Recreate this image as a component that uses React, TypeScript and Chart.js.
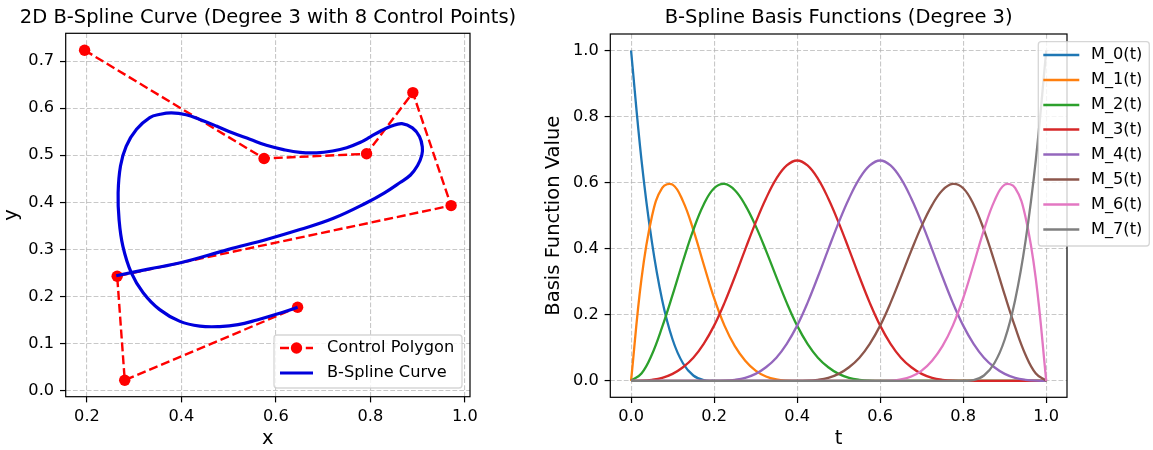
import React, { useEffect, useRef } from 'react';
import { Chart, registerables } from 'chart.js';

Chart.register(...registerables);

const FONT = '"DejaVu Sans", sans-serif';

// ---------- Left chart: control polygon and B-spline curve ----------
const leftTitle = '2D B-Spline Curve (Degree 3 with 8 Control Points)';
const controlX = [0.195, 0.575, 0.792, 0.890, 0.971, 0.264, 0.280, 0.646];
const controlY = [0.723, 0.493, 0.503, 0.633, 0.393, 0.243, 0.022, 0.177];

const curveX = [
  0.262, 0.330, 0.400, 0.500, 0.580, 0.651, 0.722, 0.792, 0.830, 0.863,
  0.885, 0.900, 0.909, 0.910, 0.904, 0.889, 0.867, 0.845, 0.821, 0.800,
  0.778, 0.750, 0.720, 0.686, 0.651, 0.616, 0.580, 0.545, 0.509, 0.474,
  0.439, 0.410, 0.379, 0.355, 0.333, 0.305, 0.283, 0.271, 0.266, 0.268,
  0.276, 0.294, 0.319, 0.354, 0.397, 0.439, 0.481, 0.520, 0.560, 0.601,
  0.646,
];
const curveY = [
  0.244, 0.258, 0.272, 0.300, 0.321, 0.342, 0.366, 0.399, 0.420, 0.442,
  0.458, 0.478, 0.500, 0.518, 0.540, 0.558, 0.567, 0.562, 0.551, 0.539,
  0.527, 0.516, 0.509, 0.505, 0.506, 0.512, 0.521, 0.534, 0.547, 0.562,
  0.576, 0.586, 0.590, 0.587, 0.580, 0.555, 0.519, 0.477, 0.420, 0.363,
  0.307, 0.250, 0.208, 0.172, 0.147, 0.137, 0.136, 0.140, 0.150, 0.162,
  0.177,
];

// ---------- Right chart: basis functions ----------
const rightTitle = 'B-Spline Basis Functions (Degree 3)';
const tValues = [
  0, 0.025, 0.05, 0.075, 0.1, 0.125, 0.15, 0.175,
  0.2, 0.225, 0.25, 0.275, 0.3, 0.325, 0.35, 0.375,
  0.4, 0.425, 0.45, 0.475, 0.5, 0.525, 0.55, 0.575,
  0.6, 0.625, 0.65, 0.675, 0.7, 0.725, 0.75, 0.775,
  0.8, 0.825, 0.85, 0.875, 0.9, 0.925, 0.95, 0.975,
  1,
];
const M0 = [
  1, 0.670, 0.422, 0.244, 0.125, 0.053, 0.016, 0.002,
  0, 0, 0, 0, 0, 0, 0, 0,
  0, 0, 0, 0, 0, 0, 0, 0,
  0, 0, 0, 0, 0, 0, 0, 0,
  0, 0, 0, 0, 0, 0, 0, 0,
  0,
];
const M1 = [
  0, 0.308, 0.496, 0.584, 0.594, 0.544, 0.457, 0.352,
  0.250, 0.167, 0.105, 0.061, 0.031, 0.013, 0.004, 0.0005,
  0, 0, 0, 0, 0, 0, 0, 0,
  0, 0, 0, 0, 0, 0, 0, 0,
  0, 0, 0, 0, 0, 0, 0, 0,
  0,
];
const M2 = [
  0, 0.022, 0.079, 0.163, 0.260, 0.362, 0.457, 0.534,
  0.583, 0.596, 0.577, 0.532, 0.469, 0.394, 0.314, 0.236,
  0.167, 0.112, 0.070, 0.041, 0.021, 0.009, 0.003, 0.0003,
  0, 0, 0, 0, 0, 0, 0, 0,
  0, 0, 0, 0, 0, 0, 0, 0,
  0,
];
const M3 = [
  0, 0.0003, 0.003, 0.009, 0.021, 0.041, 0.070, 0.112,
  0.167, 0.236, 0.315, 0.398, 0.479, 0.552, 0.612, 0.652,
  0.667, 0.652, 0.612, 0.552, 0.479, 0.398, 0.315, 0.236,
  0.167, 0.112, 0.070, 0.041, 0.021, 0.009, 0.003, 0.0003,
  0, 0, 0, 0, 0, 0, 0, 0,
  0,
];
const M4 = [
  0, 0, 0, 0, 0, 0, 0, 0,
  0, 0.0003, 0.003, 0.009, 0.021, 0.041, 0.070, 0.112,
  0.167, 0.236, 0.315, 0.398, 0.479, 0.552, 0.612, 0.652,
  0.667, 0.652, 0.612, 0.552, 0.479, 0.398, 0.315, 0.236,
  0.167, 0.112, 0.070, 0.041, 0.021, 0.009, 0.003, 0.0003,
  0,
];
const M5 = [
  0, 0, 0, 0, 0, 0, 0, 0,
  0, 0, 0, 0, 0, 0, 0, 0,
  0, 0.0003, 0.003, 0.009, 0.021, 0.041, 0.070, 0.112,
  0.167, 0.236, 0.314, 0.394, 0.469, 0.532, 0.577, 0.596,
  0.583, 0.534, 0.457, 0.362, 0.260, 0.163, 0.079, 0.022,
  0,
];
const M6 = [
  0, 0, 0, 0, 0, 0, 0, 0,
  0, 0, 0, 0, 0, 0, 0, 0,
  0, 0, 0, 0, 0, 0, 0, 0,
  0, 0.0005, 0.004, 0.013, 0.031, 0.061, 0.105, 0.167,
  0.250, 0.352, 0.457, 0.544, 0.594, 0.584, 0.496, 0.308,
  0,
];
const M7 = [
  0, 0, 0, 0, 0, 0, 0, 0,
  0, 0, 0, 0, 0, 0, 0, 0,
  0, 0, 0, 0, 0, 0, 0, 0,
  0, 0, 0, 0, 0, 0, 0, 0,
  0, 0.002, 0.016, 0.053, 0.125, 0.244, 0.422, 0.670,
  1,
];
const basisSeries = [M0, M1, M2, M3, M4, M5, M6, M7];
const basisLabels = ['M_0(t)', 'M_1(t)', 'M_2(t)', 'M_3(t)', 'M_4(t)', 'M_5(t)', 'M_6(t)', 'M_7(t)'];
const basisColors = ['#1f77b4', '#ff7f0e', '#2ca02c', '#d62728', '#9467bd', '#8c564b', '#e377c2', '#7f7f7f'];

// ---------- helpers ----------
const framePlugin = {
  id: 'frame',
  afterDatasetsDraw(chart: any) {
    const { ctx, chartArea: a } = chart;
    ctx.save();
    ctx.strokeStyle = '#000';
    ctx.lineWidth = 1.2;
    ctx.setLineDash([]);
    ctx.strokeRect(a.left, a.top, a.right - a.left, a.bottom - a.top);
    ctx.restore();
  },
};

type LegendSpec = {
  box: [number, number, number, number];
  rows: number[];
  handle: [number, number];
  textX: number;
};

function makeLegend(spec: LegendSpec) {
  return {
    id: 'boxLegend',
    afterDraw(chart: any) {
      const ctx = chart.ctx;
      ctx.save();
      const [x, y, w, h] = spec.box;
      ctx.beginPath();
      if ((ctx as any).roundRect) (ctx as any).roundRect(x, y, w, h, 3);
      else ctx.rect(x, y, w, h);
      ctx.fillStyle = 'rgba(255,255,255,0.8)';
      ctx.fill();
      ctx.strokeStyle = 'rgba(204,204,204,0.8)';
      ctx.lineWidth = 1.3;
      ctx.stroke();
      chart.data.datasets.forEach((ds: any, i: number) => {
        const cy = spec.rows[i];
        const [h0, h1] = spec.handle;
        ctx.strokeStyle = ds.borderColor;
        ctx.lineWidth = ds.borderWidth;
        ctx.setLineDash(ds.borderDash || []);
        ctx.beginPath();
        ctx.moveTo(h0, cy);
        ctx.lineTo(h1, cy);
        ctx.stroke();
        ctx.setLineDash([]);
        if (ds.pointRadius > 0) {
          ctx.fillStyle = ds.pointBackgroundColor;
          ctx.beginPath();
          ctx.arc((h0 + h1) / 2, cy, ds.pointRadius, 0, Math.PI * 2);
          ctx.fill();
        }
        ctx.fillStyle = '#000';
        ctx.font = `16.2px ${FONT}`;
        ctx.textBaseline = 'middle';
        ctx.textAlign = 'left';
        ctx.fillText(ds.label, spec.textX, cy);
      });
      ctx.restore();
    },
  };
}

function axis(
  isY: boolean,
  min: number,
  max: number,
  step: number,
  title: string,
  titlePad: number,
  size: number,
) {
  return {
    type: 'linear',
    position: isY ? 'left' : 'bottom',
    min,
    max,
    border: { display: false, dash: [4.8, 2.1] },
    grid: {
      color: 'rgba(176,176,176,0.7)',
      lineWidth: 1.1,
      drawTicks: true,
      tickLength: 5.7,
      tickColor: '#000',
      tickWidth: 1.2,
      tickBorderDash: [],
    },
    ticks: {
      stepSize: step,
      includeBounds: false,
      autoSkip: false,
      maxRotation: 0,
      padding: isY ? 5.9 : 4.3,
      color: '#000',
      font: { size: 16.2, family: FONT, lineHeight: 1.2 },
      callback: (v: any) => Number(v).toFixed(1),
    },
    title: {
      display: true,
      text: title,
      color: '#000',
      font: { size: 19.5, family: FONT, lineHeight: 1.1 },
      padding: isY ? { top: titlePad, bottom: 0 } : { top: 0, bottom: titlePad },
    },
    afterFit: (s: any) => {
      if (isY) s.width = size;
      else s.height = size;
    },
  };
}

// empty right-hand box that only reserves space beside the plot area
function spacer(size: number) {
  return {
    type: 'linear',
    position: 'right',
    display: true,
    grid: { display: false, drawTicks: false },
    border: { display: false },
    ticks: { display: false },
    title: { display: false },
    afterFit: (s: any) => {
      s.width = size;
    },
  };
}

function baseOptions(
  title: string,
  titleBottom: number,
  fullSize: boolean,
  rightSpace: number,
  xAxis: any,
  yAxis: any,
) {
  return {
    animation: false,
    responsive: false,
    maintainAspectRatio: false,
    devicePixelRatio: 1,
    events: [],
    layout: { padding: 0 },
    plugins: {
      legend: { display: false },
      tooltip: { enabled: false },
      title: {
        display: true,
        text: title,
        fullSize,
        color: '#000',
        font: { size: 19.5, family: FONT, weight: 'normal', lineHeight: 1.2 },
        padding: { top: 6.5, bottom: titleBottom },
      },
    },
    scales: { x: xAxis, y: yAxis, spacer: spacer(rightSpace) },
  };
}

const LEFT_W = 536;
const RIGHT_W = 617;

export default function App() {
  const leftRef = useRef<HTMLCanvasElement>(null);
  const rightRef = useRef<HTMLCanvasElement>(null);

  useEffect(() => {
    Chart.defaults.font.family = FONT;
    Chart.defaults.color = '#000';

    const left = new Chart(leftRef.current as HTMLCanvasElement, {
      type: 'scatter',
      data: {
        datasets: [
          {
            label: 'Control Polygon',
            data: controlX.map((x, i) => ({ x, y: controlY[i] })),
            showLine: true,
            borderColor: '#ff0000',
            backgroundColor: '#ff0000',
            borderWidth: 2.4,
            borderDash: [9, 3.9],
            pointRadius: 5.7,
            pointBackgroundColor: '#ff0000',
            pointBorderColor: '#ff0000',
            pointBorderWidth: 0,
            tension: 0,
            order: 1,
          },
          {
            label: 'B-Spline Curve',
            data: curveX.map((x, i) => ({ x, y: curveY[i] })),
            showLine: true,
            borderColor: '#0000dc',
            backgroundColor: '#0000dc',
            borderWidth: 3.2,
            pointRadius: 0,
            tension: 0.4,
            order: 0,
          },
        ],
      },
      options: baseOptions(
        leftTitle,
        3.4,
        true,
        LEFT_W - 470,
        axis(false, 0.155, 1.011, 0.2, 'x', 0, 53.3),
        axis(true, -0.013, 0.759, 0.1, 'y', 1, 65.7),
      ) as any,
      plugins: [
        framePlugin,
        makeLegend({ box: [274, 335, 188, 53], rows: [348, 373], handle: [280, 313], textX: 327 }),
      ],
    });

    const right = new Chart(rightRef.current as HTMLCanvasElement, {
      type: 'scatter',
      data: {
        datasets: basisSeries.map((vals, i) => ({
          label: basisLabels[i],
          data: tValues.map((t, j) => ({ x: t, y: vals[j] })),
          showLine: true,
          borderColor: basisColors[i],
          backgroundColor: basisColors[i],
          borderWidth: 2.3,
          pointRadius: 0,
          tension: 0.4,
          order: basisSeries.length - 1 - i,
        })),
      },
      options: baseOptions(
        rightTitle,
        4.1,
        false,
        RIGHT_W - (1067 - LEFT_W),
        axis(false, -0.05, 1.05, 0.2, 't', 0, 52.7),
        axis(true, -0.05, 1.05, 0.2, 'Basis Function Value', 6.8, 610.3 - LEFT_W),
      ) as any,
      plugins: [
        framePlugin,
        makeLegend({
          box: [1038.3 - LEFT_W, 41.7, 111, 204.3],
          rows: [55, 80, 105, 129.5, 154.5, 179.5, 204.5, 229.5],
          handle: [1043.3 - LEFT_W, 1079.3 - LEFT_W],
          textX: 1091 - LEFT_W,
        }),
      ],
    });

    return () => {
      left.destroy();
      right.destroy();
    };
  }, []);

  return (
    <div style={{ position: 'absolute', left: 0, top: 0, width: 1153, height: 450, background: '#fff', overflow: 'hidden' }}>
      <canvas ref={leftRef} width={LEFT_W} height={450} style={{ position: 'absolute', left: 0, top: 0, width: LEFT_W, height: 450 }} />
      <canvas ref={rightRef} width={RIGHT_W} height={450} style={{ position: 'absolute', left: LEFT_W, top: 0, width: RIGHT_W, height: 450 }} />
    </div>
  );
}
